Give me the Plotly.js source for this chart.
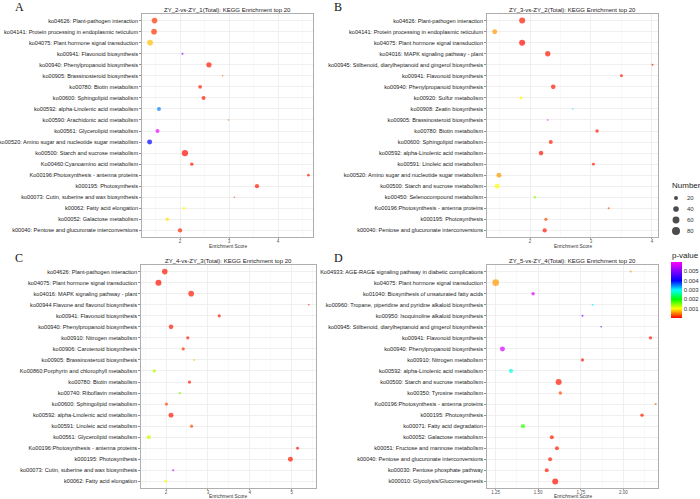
<!DOCTYPE html>
<html>
<head>
<meta charset="utf-8">
<script src="https://cdn.plot.ly/plotly-3.0.1.min.js"></script>
<style>
  html, body { margin: 0; padding: 0; background: #ffffff; }
  #chart { width: 700px; height: 499px; }
</style>
</head>
<body>
<div id="chart"></div>
<script>
// ---------- Panel A: ZY_2 vs ZY_1 ----------
const titleA = 'ZY_2-vs-ZY_1(Total): KEGG Enrichment top 20';
const pathwaysA = [
  'ko04626: Plant-pathogen interaction',
  'ko04141: Protein processing in endoplasmic reticulum',
  'ko04075: Plant hormone signal transduction',
  'ko00941: Flavonoid biosynthesis',
  'ko00940: Phenylpropanoid biosynthesis',
  'ko00905: Brassinosteroid biosynthesis',
  'ko00780: Biotin metabolism',
  'ko00600: Sphingolipid metabolism',
  'ko00592: alpha-Linolenic acid metabolism',
  'ko00590: Arachidonic acid metabolism',
  'ko00561: Glycerolipid metabolism',
  'ko00520: Amino sugar and nucleotide sugar metabolism',
  'ko00500: Starch and sucrose metabolism',
  'Ko00460:Cyanoamino acid metabolism',
  'Ko00196:Photosynthesis - antenna proteins',
  'k000195: Photosynthesis',
  'ko00073: Cutin, suberine and wax biosynthesis',
  'k00062: Fatty acid elongation',
  'ko00052: Galactose metabolism',
  'k00040: Pentose and glucuronate interconversions'
];
const scoreA = [1.48, 1.47, 1.39, 2.05, 2.59, 2.87, 2.41, 2.48, 1.57, 2.99,
                1.54, 1.38, 2.10, 2.24, 4.62, 3.57, 3.11, 2.08, 1.74, 2.00];
const countA = [40, 40, 40, 5, 35, 3, 17, 20, 20, 3,
                20, 31, 50, 15, 9, 23, 3, 9, 15, 23];
const pvalA  = [0.0002, 0.0002, 0.00075, 0.005, 0.0001, 0.0004, 0.0001, 0.0001, 0.0035, 0.0004,
                0.0059, 0.004, 0.00005, 0.0001, 0.0001, 0.0001, 0.0003, 0.001, 0.0009, 0.00015];

// ---------- Panel B: ZY_3 vs ZY_2 ----------
const titleB = 'ZY_3-vs-ZY_2(Total): KEGG Enrichment top 20';
const pathwaysB = [
  'ko04626: Plant-pathogen interaction',
  'ko04141: Protein processing in endoplasmic reticulum',
  'ko04075: Plant hormone signal transduction',
  'ko04016: MAPK signaling pathway - plant',
  'ko00945: Stilbenoid, diarylheptanoid and gingerol biosynthesis',
  'ko00941: Flavonoid biosynthesis',
  'ko00940: Phenylpropanoid biosynthesis',
  'ko00920: Sulfur metabolism',
  'ko00908: Zeatin biosynthesis',
  'ko00905: Brassinosteroid biosynthesis',
  'ko00780: Biotin metabolism',
  'ko00600: Sphingolipid metabolism',
  'ko00592: alpha-Linolenic acid metabolism',
  'ko00591: Linoleic acid metabolism',
  'ko00520: Amino sugar and nucleotide sugar metabolism',
  'ko00500: Starch and sucrose metabolism',
  'ko00450: Selenocompound metabolism',
  'Ko00196:Photosynthesis - antenna proteins',
  'k000195: Photosynthesis',
  'k00040: Pentose and glucuronate interconversions'
];
const scoreB = [1.87, 1.42, 1.87, 2.29, 4.01, 3.50, 2.38, 1.85, 2.70, 2.29,
                3.10, 2.34, 2.18, 3.04, 1.49, 1.46, 2.08, 3.29, 2.26, 2.24];
const countB = [45, 31, 45, 35, 5, 11, 27, 11, 3, 3,
                15, 20, 27, 11, 31, 31, 9, 5, 13, 23];
const pvalB  = [0.0001, 0.0006, 0.00005, 0.0001, 0.0001, 0.0001, 0.0001, 0.001, 0.0031, 0.0058,
                0.0001, 0.0001, 0.0001, 0.0001, 0.0006, 0.001, 0.0014, 0.0003, 0.0003, 0.0001];

// ---------- Panel C: ZY_4 vs ZY_3 ----------
const titleC = 'ZY_4-vs-ZY_3(Total): KEGG Enrichment top 20';
const pathwaysC = [
  'ko04626: Plant-pathogen interaction',
  'ko04075: Plant hormone signal transduction',
  'ko04016: MAPK signaling pathway - plant',
  'ko00944 Flavone and flavonol biosynthesis',
  'ko00941: Flavonoid biosynthesis',
  'ko00940: Phenylpropanoid biosynthesis',
  'ko00910: Nitrogen metabolism',
  'ko00906: Carotenoid biosynthesis',
  'ko00905: Brassinosteroid biosynthesis',
  'Ko00860:Porphyrin and chlorophyll metabolism',
  'ko00780: Biotin metabolism',
  'ko00740: Riboflavin metabolism',
  'ko00600: Sphingolipid metabolism',
  'ko00592: alpha-Linolenic acid metabolism',
  'ko00591: Linoleic acid metabolism',
  'ko00561: Glycerolipid metabolism',
  'Ko00196:Photosynthesis - antenna proteins',
  'k000195: Photosynthesis',
  'ko00073: Cutin, suberine and wax biosynthesis',
  'k00062: Fatty acid elongation'
];
const scoreC = [1.97, 1.82, 2.60, 5.41, 3.27, 2.12, 2.52, 2.41, 2.67, 1.72,
                2.56, 2.33, 2.01, 2.12, 2.61, 1.59, 5.14, 4.97, 2.17, 1.99];
const countC = [40, 45, 40, 2, 13, 27, 13, 13, 5, 15,
                13, 7, 13, 31, 13, 23, 11, 31, 5, 11];
const pvalC  = [0.0001, 0.00005, 0.0001, 0.0001, 0.0001, 0.0001, 0.0001, 0.0002, 0.0008, 0.0013,
                0.0001, 0.0015, 0.0003, 0.0001, 0.0003, 0.0012, 0.0001, 0.0001, 0.0056, 0.001];

// ---------- Panel D: ZY_5 vs ZY_4 ----------
const titleD = 'ZY_5-vs-ZY_4(Total): KEGG Enrichment top 20';
const pathwaysD = [
  'Ko04933: AGE-RAGE signaling pathway in diabetic complications',
  'ko04075: Plant hormone signal transduction',
  'ko01040: Biosynthesis of unsaturated fatty acids',
  'ko00960: Tropane, piperidine and pyridine alkaloid biosynthesis',
  'ko00950: Isoquinoline alkaloid biosynthesis',
  'ko00945: Stilbenoid, diarylheptanoid and gingerol biosynthesis',
  'ko00941: Flavonoid biosynthesis',
  'ko00940: Phenylpropanoid biosynthesis',
  'ko00910: Nitrogen metabolism',
  'ko00592: alpha-Linolenic acid metabolism',
  'ko00500: Starch and sucrose metabolism',
  'ko00350: Tyrosine metabolism',
  'Ko00196:Photosynthesis - antenna proteins',
  'k000195: Photosynthesis',
  'ko00071: Fatty acid degradation',
  'ko00052: Galactose metabolism',
  'k00051: Fructose and mannose metabolism',
  'k00040: Pentose and glucuronate interconversions',
  'ko00030: Pentose phosphate pathway',
  'k000010: Glycolysis/Gluconeogenesis'
];
const scoreD = [2.044, 1.25, 1.47, 1.82, 1.76, 1.87, 2.16, 1.29, 1.76, 1.34,
                1.62, 1.63, 2.19, 2.11, 1.41, 1.58, 1.61, 1.57, 1.55, 1.60];
const countD = [5, 55, 15, 5, 5, 2, 15, 31, 13, 23,
                45, 15, 5, 15, 23, 20, 20, 20, 20, 45];
const pvalD  = [0.0006, 0.0006, 0.0058, 0.003, 0.0052, 0.0042, 0.0001, 0.0057, 0.0001, 0.0029,
                0.0001, 0.0003, 0.0004, 0.0001, 0.0018, 0.0001, 0.0001, 0.0001, 0.0001, 0.00005];

// ---------- Legend keys ----------
const sizeKeys = [20, 40, 60, 80];
const pTicks = [0.001, 0.002, 0.003, 0.004, 0.005];

// ---------- Drawing ----------
const W = 700, H = 499;
const fx = px => px / W;
const fy = py => 1 - py / H;

const FONT = 'Liberation Sans, Arial, sans-serif';
const pScale = [
  [0.0, '#FF0000'],
  [0.167, '#FFFF00'],
  [0.333, '#00FF00'],
  [0.5, '#00FFFF'],
  [0.667, '#0000FF'],
  [1.0, '#FF00FF']
];
const SIZEREF = 2.5;

const panels = [
  {title: titleA, names: pathwaysA, score: scoreA, count: countA, p: pvalA, letter: 'A', lx: 13, tgap: 10,
   box: [142, 313, 14, 237], range: [1.224, 4.714], dtick: 1, tick0: 0, minor: 0.5, fmt: ''},
  {title: titleB, names: pathwaysB, score: scoreB, count: countB, p: pvalB, letter: 'B', lx: 332, tgap: 10,
   box: [487, 658, 14, 237], range: [1.293, 4.10], dtick: 1, tick0: 0, minor: 0.5, fmt: ''},
  {title: titleC, names: pathwaysC, score: scoreC, count: countC, p: pvalC, letter: 'C', lx: 13, tgap: 8,
   box: [141, 316, 265, 488], range: [1.403, 5.58], dtick: 1, tick0: 0, minor: 0.5, fmt: ''},
  {title: titleD, names: pathwaysD, score: scoreD, count: countD, p: pvalD, letter: 'D', lx: 332, tgap: 8,
   box: [487, 658, 265, 488], range: [1.199, 2.204], dtick: 0.25, tick0: 0, minor: 0.125, fmt: '.2f'}
];

const traces = [];
const layout = {
  width: W, height: H,
  margin: {l: 0, r: 0, t: 0, b: 0},
  paper_bgcolor: '#ffffff',
  plot_bgcolor: '#ffffff',
  showlegend: false,
  font: {family: FONT, color: '#222'},
  annotations: []
};

panels.forEach((pn, i) => {
  const n = i + 1;
  const xa = n === 1 ? 'x' : 'x' + n;
  const ya = n === 1 ? 'y' : 'y' + n;
  const [x0, x1, y0, y1] = pn.box;

  traces.push({
    type: 'scatter', mode: 'markers',
    x: pn.score, y: pn.names,
    xaxis: xa, yaxis: ya,
    hovertemplate: '%{y}<br>Enrichment Score: %{x}<extra></extra>',
    marker: {
      size: pn.count, sizemode: 'area', sizeref: SIZEREF, sizemin: 0.8,
      color: pn.p, cmin: 0, cmax: 0.006, colorscale: pScale,
      line: {width: 0},
      showscale: i === 0,
      colorbar: {
        title: {text: ''},
        x: fx(670.5), xanchor: 'left', xpad: 0,
        y: fy(262), yanchor: 'top', ypad: 0,
        lenmode: 'pixels', len: 56,
        thickness: 11, thicknessmode: 'pixels',
        outlinewidth: 0,
        tickvals: pTicks, ticktext: pTicks.map(v => v.toFixed(3)),
        ticks: '', ticklabelposition: 'outside',
        tickfont: {size: 6, family: FONT, color: '#333'}
      }
    }
  });

  layout['xaxis' + (n === 1 ? '' : n)] = {
    domain: [fx(x0), fx(x1)], anchor: ya,
    range: pn.range, tick0: pn.tick0, dtick: pn.dtick, tickformat: pn.fmt,
    showgrid: true, gridcolor: '#EBEBEB', gridwidth: 0.8,
    minor: {dtick: pn.minor, showgrid: true, gridcolor: '#F3F3F3', gridwidth: 0.5},
    ticks: 'outside', ticklen: 1.5, tickwidth: 0.6, tickcolor: '#555',
    ticklabelstandoff: -2,
    tickfont: {size: 4.5, family: FONT, color: '#555'},
    showline: true, linecolor: '#9a9a9a', linewidth: 0.8, mirror: true,
    zeroline: false, fixedrange: true
  };
  layout['yaxis' + (n === 1 ? '' : n)] = {
    domain: [fy(y1), fy(y0)], anchor: xa,
    type: 'category', categoryorder: 'array', categoryarray: pn.names,
    range: [pn.names.length - 0.4, -0.6],
    showgrid: true, gridcolor: '#EBEBEB', gridwidth: 0.8,
    ticks: 'outside', ticklen: 2, tickwidth: 0.6, tickcolor: '#444',
    tickfont: {size: 5.6, family: FONT, color: '#222'},
    showline: true, linecolor: '#9a9a9a', linewidth: 0.8, mirror: true,
    zeroline: false, fixedrange: true
  };

  const cx = (x0 + x1) / 2;
  layout.annotations.push(
    {text: pn.letter, xref: 'paper', yref: 'paper', x: fx(pn.lx), y: fy(y0 - 7),
     xanchor: 'left', yanchor: 'middle', showarrow: false,
     font: {family: 'Liberation Serif, Times New Roman, serif', size: 12, color: '#111'}},
    {text: pn.title, xref: 'paper', yref: 'paper', x: fx(cx), y: fy(y0 - 4),
     xanchor: 'center', yanchor: 'middle', showarrow: false,
     font: {family: FONT, size: 6, color: '#222'}},
    {text: 'Enrichment Score', xref: 'paper', yref: 'paper', x: fx(cx), y: fy(y1 + pn.tgap),
     xanchor: 'center', yanchor: 'middle', showarrow: false,
     font: {family: FONT, size: 4.8, color: '#333'}}
  );
});

// Colour key title
layout.annotations.push({text: 'p-value', xref: 'paper', yref: 'paper', x: fx(670), y: fy(256),
  xanchor: 'left', yanchor: 'middle', showarrow: false, font: {family: FONT, size: 8, color: '#222'}});

// Size legend ("Number") drawn on its own hidden axis pair
traces.push({
  type: 'scatter', mode: 'markers',
  x: sizeKeys.map(() => 0.5), y: sizeKeys.map(String),
  xaxis: 'x5', yaxis: 'y5', hoverinfo: 'skip',
  marker: {size: sizeKeys, sizemode: 'area', sizeref: SIZEREF, color: '#000000', line: {width: 0}}
});
layout.xaxis5 = {domain: [fx(668), fx(684)], anchor: 'y5', range: [0, 1], visible: false, fixedrange: true};
layout.yaxis5 = {domain: [fy(236.5), fy(192.5)], anchor: 'x5', type: 'category',
                 categoryorder: 'array', categoryarray: sizeKeys.map(String),
                 range: [sizeKeys.length - 0.5, -0.5], visible: false, fixedrange: true};
layout.annotations.push({text: 'Number', xref: 'paper', yref: 'paper', x: fx(670), y: fy(185),
  xanchor: 'left', yanchor: 'middle', showarrow: false, font: {family: FONT, size: 8, color: '#222'}});
sizeKeys.forEach((v, k) => {
  layout.annotations.push({text: String(v), xref: 'paper', yref: 'y5', x: fx(685), y: k,
    xanchor: 'left', yanchor: 'middle', showarrow: false, font: {family: FONT, size: 6, color: '#333'}});
});

Plotly.newPlot('chart', traces, layout, {staticPlot: true, displayModeBar: false});
</script>
</body>
</html>
